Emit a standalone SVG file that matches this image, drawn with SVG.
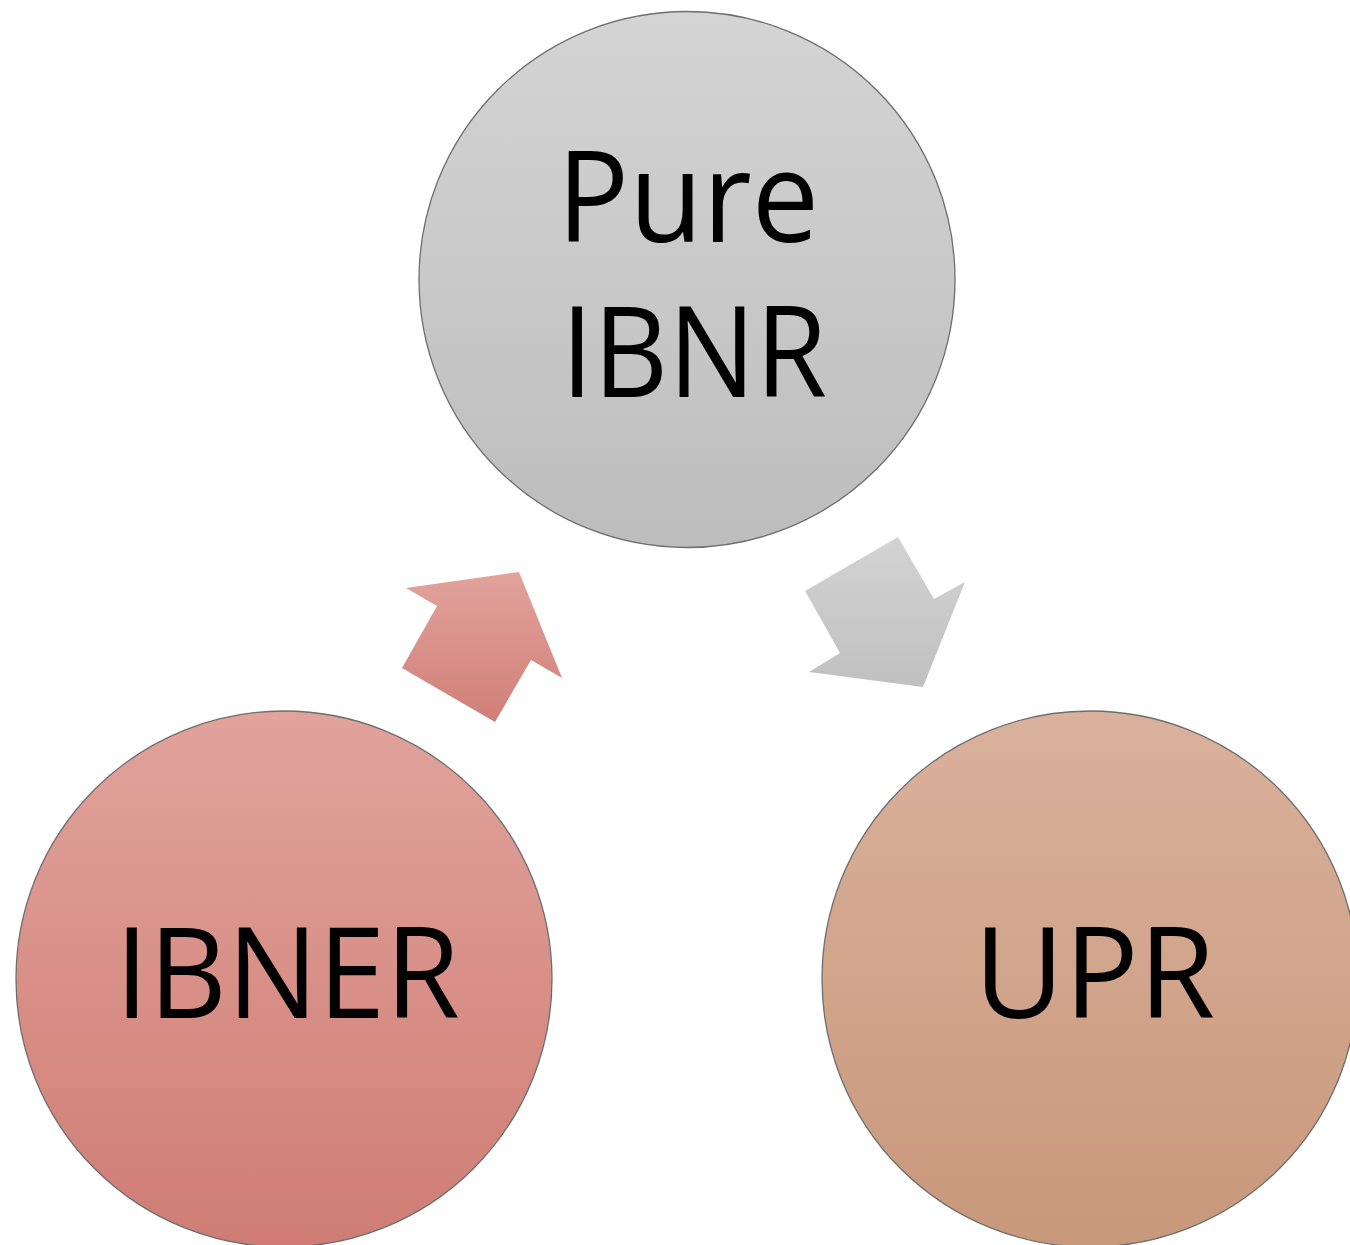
<svg xmlns="http://www.w3.org/2000/svg" width="1350" height="1245" viewBox="0 0 1350 1245">
<defs>
<linearGradient id="gGrey" x1="0" y1="0" x2="0" y2="1">
<stop offset="0" stop-color="#d4d4d4"/>
<stop offset="1" stop-color="#bdbdbd"/>
</linearGradient>
<linearGradient id="gRed" x1="0" y1="0" x2="0" y2="1">
<stop offset="0" stop-color="#e1a39c"/>
<stop offset="1" stop-color="#cf7d74"/>
</linearGradient>
<linearGradient id="gTan" x1="0" y1="0" x2="0" y2="1">
<stop offset="0" stop-color="#dab19c"/>
<stop offset="1" stop-color="#c8987b"/>
</linearGradient>
<linearGradient id="gArrRed" x1="0" y1="0" x2="0" y2="1">
<stop offset="0" stop-color="#e1a39c"/>
<stop offset="1" stop-color="#d07f77"/>
</linearGradient>
<linearGradient id="gArrGrey" x1="0" y1="0" x2="0" y2="1">
<stop offset="0" stop-color="#d3d3d3"/>
<stop offset="1" stop-color="#c0c0c0"/>
</linearGradient>
<style>
.node circle { stroke: #6e6e6e; stroke-width: 1.3; }
.label { font-family: "Open Sans", "Lato", "Liberation Sans", sans-serif; font-size: 126px; font-weight: 500; fill: #000000; text-anchor: middle; }
</style>
</defs>
<rect x="0" y="0" width="1350" height="1245" fill="#ffffff"/>
<g id="connectors">
<polygon id="arrow-ibner-pure" fill="url(#gArrRed)" points="406,588 437,606 402,668 495,722 531,660 562,678 519,572"/>
<polygon id="arrow-pure-upr" fill="url(#gArrGrey)" points="805,591 898,537 934,599 965,582 923,687 809,672 840,653"/>
</g>
<g id="node-pure-ibnr" class="node">
<circle cx="687" cy="279.5" r="268" fill="url(#gGrey)"/>
<text class="label" x="688" y="242" textLength="262" lengthAdjust="spacingAndGlyphs">Pure</text>
<text class="label" x="694" y="397" textLength="266" lengthAdjust="spacingAndGlyphs">IBNR</text>
</g>
<g id="node-ibner" class="node">
<circle cx="284" cy="979" r="268" fill="url(#gRed)"/>
<text class="label" x="287.5" y="1018" textLength="345" lengthAdjust="spacingAndGlyphs">IBNER</text>
</g>
<g id="node-upr" class="node">
<circle cx="1090" cy="979" r="268" fill="url(#gTan)"/>
<text class="label" x="1094.5" y="1018" textLength="241" lengthAdjust="spacingAndGlyphs">UPR</text>
</g>
</svg>
